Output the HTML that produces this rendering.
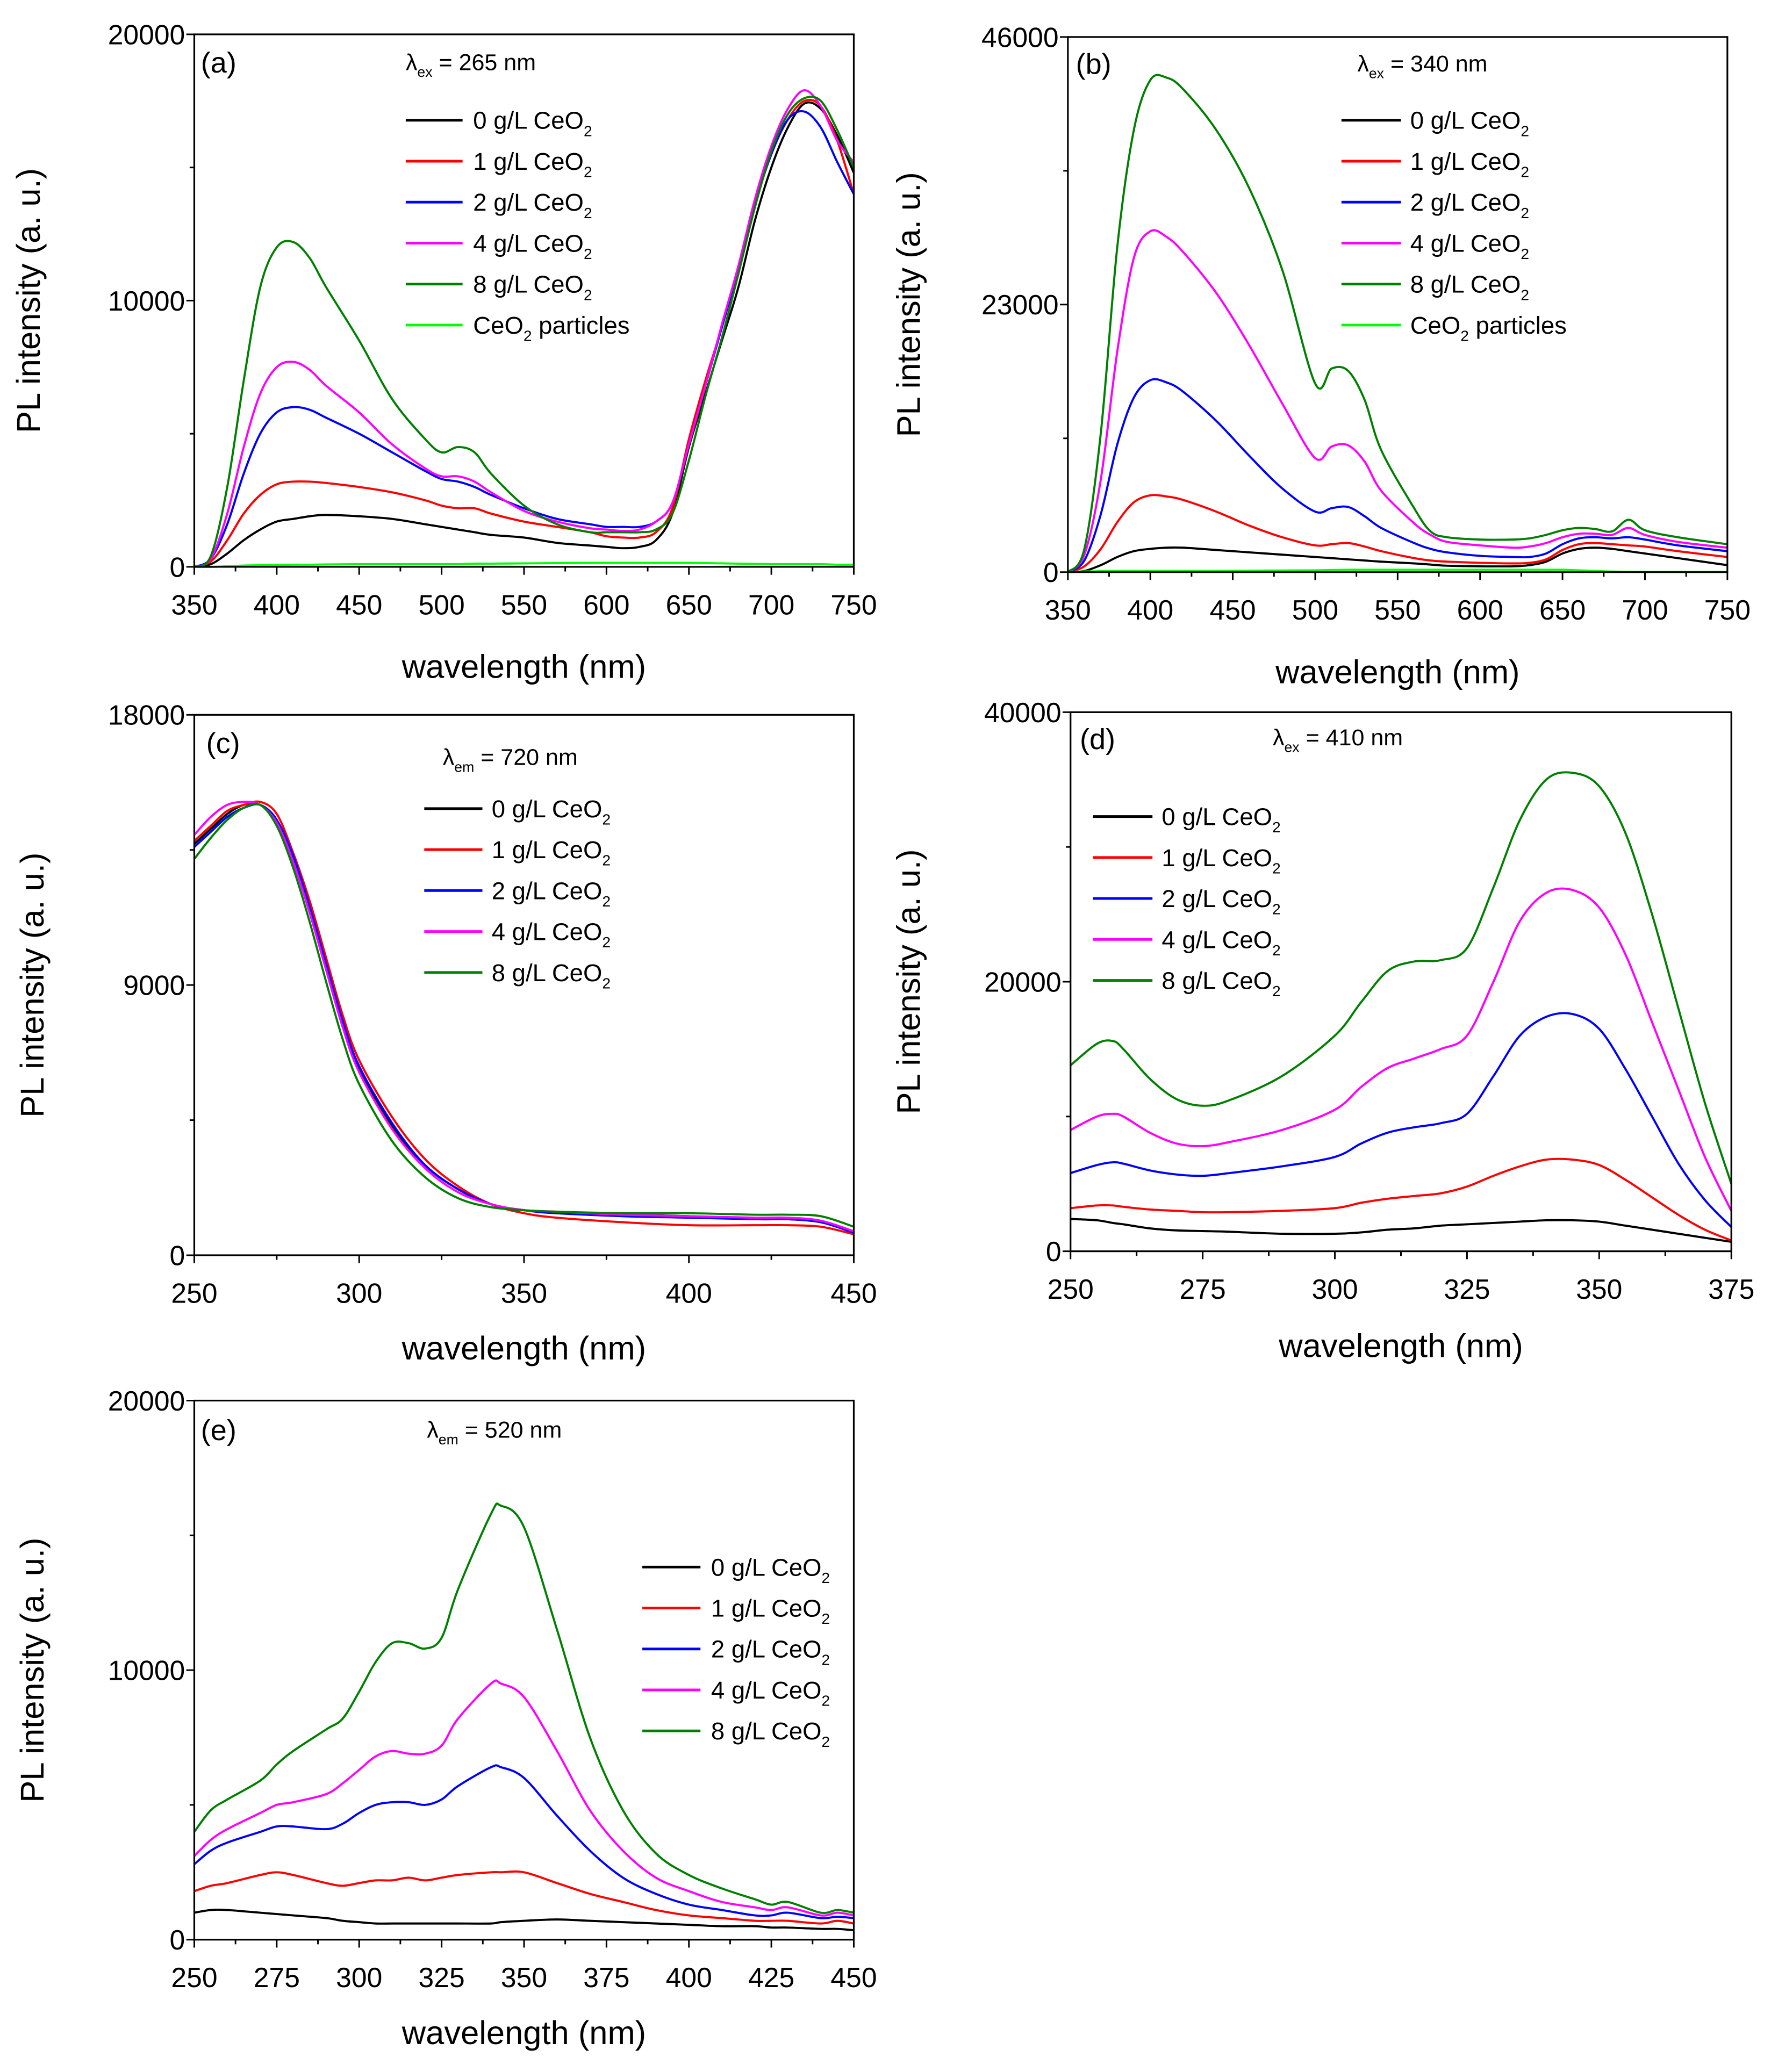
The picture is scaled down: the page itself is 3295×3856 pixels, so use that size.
<!DOCTYPE html>
<html><head><meta charset="utf-8"><style>
html,body{margin:0;padding:0;background:#fff}
svg{display:block}
text{font-family:"Liberation Sans",sans-serif;fill:#000}
</style></head><body>
<svg id="fig" xmlns="http://www.w3.org/2000/svg" width="3295" height="3856" viewBox="0 0 1340 1568.15"></svg>
<script>
// ---------- DATA ----------
const seriesNames = ["0 g/L CeO2","1 g/L CeO2","2 g/L CeO2","4 g/L CeO2","8 g/L CeO2","CeO2 particles"];
const seriesColors = ["#000000","#ff0000","#0000ff","#ff00ff","#008000","#00ff00"];

const aX = [350,360,370,380,390,400,410,420,430,450,470,490,500,510,520,530,550,570,590,600,610,620,630,640,650,660,670,680,690,700,710,720,730,740,750];
const aBlack = [0,0.1,0.5,1.0,1.4,1.7,1.8,1.9,1.95,1.9,1.8,1.6,1.5,1.4,1.3,1.2,1.1,0.9,0.8,0.75,0.7,0.75,1.0,2.0,4.5,6.5,8.5,10.5,13.0,15.0,16.5,17.4,17.2,16.2,14.8];
const aRed = [0,0.2,1.0,2.0,2.7,3.1,3.2,3.2,3.15,3.0,2.8,2.5,2.3,2.2,2.2,2.0,1.7,1.5,1.3,1.15,1.1,1.1,1.3,2.2,4.8,7.0,9.0,11.2,13.6,15.5,16.8,17.5,17.3,16.0,14.0];
const aBlue = [0,0.3,1.6,3.5,5.0,5.8,6.0,5.9,5.6,5.0,4.3,3.6,3.3,3.2,3.0,2.7,2.2,1.8,1.6,1.5,1.5,1.5,1.7,2.4,4.6,6.8,9.0,11.2,13.6,15.5,16.8,17.1,16.5,15.2,14.0];
const aMag = [0,0.3,2.0,4.5,6.5,7.5,7.7,7.4,6.8,5.8,4.6,3.7,3.4,3.4,3.2,2.8,2.1,1.7,1.45,1.4,1.35,1.4,1.7,2.4,4.6,6.8,9.1,11.3,13.8,15.8,17.2,17.9,17.3,16.0,15.2];
const aGreen = [0,0.4,3.0,7.0,10.5,12.0,12.2,11.6,10.5,8.5,6.3,4.8,4.3,4.5,4.3,3.5,2.3,1.6,1.3,1.3,1.3,1.3,1.4,2.0,4.0,6.4,8.6,11.0,13.5,15.6,17.0,17.6,17.5,16.4,15.0];
const aLight = [0,0,0.02,0.05,0.06,0.07,0.08,0.08,0.09,0.1,0.1,0.1,0.1,0.1,0.12,0.12,0.13,0.14,0.15,0.15,0.15,0.15,0.15,0.15,0.15,0.14,0.13,0.12,0.11,0.1,0.1,0.1,0.1,0.08,0.08];

const bX = [350,360,370,380,390,400,410,420,440,460,480,500,510,520,530,540,560,570,580,600,620,630,640,650,660,670,680,690,700,720,750];
const bBlack = [0,0.1,0.6,1.3,1.8,2.0,2.1,2.1,1.9,1.7,1.5,1.3,1.2,1.1,1.0,0.9,0.75,0.65,0.55,0.5,0.5,0.6,0.9,1.6,2.0,2.1,2.0,1.8,1.6,1.2,0.6];
const bRed = [0,0.5,2,4.3,6.0,6.6,6.5,6.2,5.2,4.0,3.0,2.3,2.4,2.5,2.2,1.8,1.2,1.0,0.9,0.8,0.75,0.8,1.1,1.9,2.4,2.5,2.4,2.3,2.2,1.8,1.3];
const bBlue = [0,1,5,11,15,16.5,16.3,15.5,13.0,10.0,7.2,5.2,5.5,5.6,4.8,3.8,2.5,2.0,1.7,1.4,1.3,1.3,1.6,2.4,2.9,3.0,2.9,3.0,2.8,2.3,1.8];
const bMag = [0,1.5,8,19,27,29.3,28.8,27.5,24,19.5,14.5,9.8,10.8,10.9,9.5,7.0,4.2,3.2,2.6,2.3,2.1,2.2,2.5,3.0,3.3,3.3,3.2,3.8,3.2,2.6,2.1];
const bGreen = [0,2,12,28,38,42.3,42.5,41.5,38,33,26,16.2,17.5,17.3,14.8,10.5,5.5,3.5,3.0,2.8,2.8,2.9,3.2,3.6,3.8,3.7,3.5,4.5,3.6,3.0,2.4];
const bLight = [0,0.05,0.08,0.1,0.1,0.1,0.1,0.1,0.1,0.12,0.14,0.15,0.18,0.2,0.2,0.2,0.2,0.2,0.2,0.2,0.2,0.2,0.2,0.2,0.15,0.1,0.05,0.03,0.02,0.02,0.02];

const cX = [250,255,260,265,270,275,280,285,290,295,300,310,320,330,340,350,360,380,400,420,430,440,450];
const cBlack = [13.7,14.2,14.7,15.0,15.0,14.5,13.2,11.5,9.6,7.7,6.2,4.3,3.0,2.2,1.7,1.5,1.4,1.35,1.3,1.2,1.2,1.1,0.8];
const cRed = [13.8,14.3,14.8,15.0,15.1,14.7,13.4,11.8,9.9,8.0,6.5,4.6,3.2,2.3,1.7,1.4,1.25,1.1,1.0,1.0,1.0,0.95,0.7];
const cBlue = [13.6,14.1,14.6,14.9,15.0,14.5,13.3,11.6,9.7,7.8,6.3,4.4,3.0,2.2,1.7,1.5,1.4,1.3,1.25,1.2,1.2,1.1,0.75];
const cMag = [14.0,14.6,15.0,15.1,15.0,14.4,13.1,11.4,9.5,7.6,6.1,4.2,2.9,2.1,1.7,1.5,1.45,1.35,1.3,1.25,1.25,1.15,0.8];
const cGreen = [13.2,13.9,14.5,14.9,15.0,14.3,12.9,11.1,9.1,7.2,5.7,3.8,2.6,1.9,1.6,1.5,1.45,1.4,1.4,1.35,1.35,1.3,0.95];

const dX = [250,255,258,260,265,270,275,280,290,300,305,310,315,320,325,330,335,340,345,350,355,360,365,370,375];
const dBlack = [2.4,2.3,2.1,2.0,1.7,1.55,1.5,1.45,1.3,1.3,1.4,1.6,1.7,1.9,2.0,2.1,2.2,2.3,2.3,2.2,1.9,1.6,1.3,1.0,0.7];
const dRed = [3.2,3.4,3.4,3.3,3.1,3.0,2.9,2.9,3.0,3.2,3.6,3.9,4.1,4.3,4.8,5.6,6.3,6.8,6.8,6.4,5.3,4.0,2.7,1.6,0.8];
const dBlue = [5.8,6.4,6.6,6.5,6.0,5.7,5.6,5.8,6.3,7.0,8.0,8.8,9.2,9.5,10.2,13,16,17.4,17.6,16.5,13.5,10,6.5,3.8,1.8];
const dMag = [9.0,10.0,10.2,10.0,8.8,8.0,7.8,8.1,9.0,10.5,12.2,13.6,14.3,15,16,20,24.5,26.6,26.8,25.5,22,17,12,7,3.0];
const dGreen = [13.8,15.4,15.6,15.0,12.8,11.3,10.8,11.2,13.0,16.0,18.5,20.8,21.5,21.6,22.5,27,32,35,35.5,34.5,31,25,18,11,5.0];

const eX = [250,255,260,270,275,280,290,295,300,305,310,315,320,325,330,340,343,350,360,370,380,390,400,410,420,425,430,440,445,450];
const eBlack = [1.0,1.1,1.1,1.0,0.95,0.9,0.8,0.7,0.65,0.6,0.6,0.6,0.6,0.6,0.6,0.6,0.65,0.7,0.75,0.7,0.65,0.6,0.55,0.5,0.5,0.45,0.45,0.4,0.4,0.35];
const eRed = [1.8,2.0,2.1,2.4,2.5,2.4,2.1,2.0,2.1,2.2,2.2,2.3,2.2,2.3,2.4,2.5,2.5,2.5,2.1,1.7,1.4,1.1,0.9,0.8,0.7,0.7,0.7,0.6,0.7,0.6];
const eBlue = [2.8,3.3,3.6,4.0,4.2,4.2,4.1,4.3,4.7,5.0,5.1,5.1,5.0,5.2,5.7,6.4,6.4,6.0,4.6,3.3,2.3,1.7,1.3,1.1,0.9,0.9,1.0,0.8,0.85,0.8];
const eMag = [3.1,3.7,4.1,4.7,5.0,5.1,5.4,5.8,6.3,6.8,7.0,6.9,6.9,7.2,8.2,9.5,9.5,9.0,7.0,4.8,3.3,2.3,1.8,1.4,1.2,1.1,1.2,0.9,1.0,0.9];
const eGreen = [4.0,4.8,5.2,5.9,6.5,7.0,7.8,8.2,9.2,10.3,11.0,11.0,10.8,11.2,13,15.8,16.1,15.3,11.5,7.5,4.8,3.2,2.4,1.9,1.5,1.3,1.4,1.0,1.1,1.0];

const aYTicks = [0,10000,20000], bYTicks = [0,23000,46000], cYTicks = [0,9000,18000], dYTicks = [0,20000,40000], eYTicks = [0,10000,20000];
const abXTicks = [350,400,450,500,550,600,650,700,750];
const ceXTicks = [250,300,350,400,450];
const dXTicks = [250,275,300,325,350,375];
const eXTicks = [250,275,300,325,350,375,400,425,450];

// ---------- DRAW ----------
const NS = "http://www.w3.org/2000/svg";
const svg = document.getElementById("fig");
function mk(tag, attrs, parent){const e=document.createElementNS(NS,tag);for(const k in attrs)e.setAttribute(k,attrs[k]);(parent||svg).appendChild(e);return e;}
function smoothPath(pts){
  let d="M"+pts[0][0].toFixed(2)+","+pts[0][1].toFixed(2);
  for(let i=0;i<pts.length-1;i++){
    const p0=pts[Math.max(0,i-1)],p1=pts[i],p2=pts[i+1],p3=pts[Math.min(pts.length-1,i+2)];
    const c1=[p1[0]+(p2[0]-p0[0])/6,p1[1]+(p2[1]-p0[1])/6];
    const c2=[p2[0]-(p3[0]-p1[0])/6,p2[1]-(p3[1]-p1[1])/6];
    d+="C"+c1[0].toFixed(2)+","+c1[1].toFixed(2)+" "+c2[0].toFixed(2)+","+c2[1].toFixed(2)+" "+p2[0].toFixed(2)+","+p2[1].toFixed(2);
  }
  return d;
}
function addSub(t, baseText, subText, size){
  const s=document.createElementNS(NS,"tspan");s.textContent=baseText;t.appendChild(s);
  const b=document.createElementNS(NS,"tspan");b.setAttribute("font-size",size*0.62);b.setAttribute("dy",size*0.3);b.textContent=subText;t.appendChild(b);
  return b;
}
function panel(cfg){
  const g=mk("g",{});
  
  
  const {x0,x1,y0,y1,xmin,xmax,ymax}=cfg;
  const sx=v=>x0+(v-xmin)/(xmax-xmin)*(x1-x0);
  const sy=v=>y0-(v/ymax)*(y0-y1);
  cfg.series.forEach((ys,i)=>{
    const pts=cfg.xs.map((xv,j)=>[sx(xv),sy(ys[j]*1000)]);
    const p=mk("path",{d:smoothPath(pts),fill:"none",stroke:seriesColors[i],"stroke-width":1.6,"stroke-linejoin":"round"},g);
    
    
  });
  const fr=mk("rect",{x:x0,y:y1,width:x1-x0,height:y0-y1,fill:"none",stroke:"#000","stroke-width":1.3},g);
  
  
  const xt=cfg.xTicks, xstep=xt[1]-xt[0];
  for(let v=xt[0];v<=xt[xt.length-1]+1e-6;v+=xstep/2){
    const major=xt.some(t=>Math.abs(t-v)<1e-6);
    mk("line",{x1:sx(v),x2:sx(v),y1:y0,y2:y0+(major?6:3.5),stroke:"#000","stroke-width":1.2},g);
  }
  xt.forEach(v=>{
    const t=mk("text",{x:sx(v),y:y0+36,"font-size":21,"text-anchor":"middle"},g);t.textContent=v;
    
    
  });
  const yt=cfg.yTicks, ystep=yt[1]-yt[0];
  for(let v=0;v<=ymax+1e-6;v+=ystep/2){
    const major=yt.some(t=>Math.abs(t-v)<1e-6);
    mk("line",{x1:x0,x2:x0-(major?6:3.5),y1:sy(v),y2:sy(v),stroke:"#000","stroke-width":1.2},g);
  }
  yt.forEach(v=>{
    const t=mk("text",{x:x0-7,y:sy(v)+7.5,"font-size":21,"text-anchor":"end"},g);t.textContent=v;
    
    
  });
  const xtT=mk("text",{x:(x0+x1)/2,y:cfg.xTitleY,"font-size":25,"text-anchor":"middle"},g);xtT.textContent="wavelength (nm)";
  
  
  const ytT=mk("text",{x:0,y:0,"font-size":25,"text-anchor":"middle",transform:"translate("+cfg.yTitleX+","+((y0+y1)/2)+") rotate(-90)"},g);ytT.textContent="PL intensity (a. u.)";
  
  
  const pl=mk("text",{x:cfg.lab[0],y:cfg.lab[1]+7,"font-size":22},g);pl.textContent="("+cfg.id+")";
  
  
  const la=mk("text",{x:cfg.lam[0],y:cfg.lam[1]+6,"font-size":17.5},g);
  
  
  addSub(la,"λ",cfg.lamSub,17.5);
  const rest=document.createElementNS(NS,"tspan");rest.setAttribute("dy",-17.5*0.3);rest.textContent=" = "+cfg.lamVal;la.appendChild(rest);
  cfg.series.forEach((ys,i)=>{
    const yy=cfg.legRows[0]+i*31;
    const le=mk("g",{},g);
    
    
    mk("line",{x1:cfg.legX[0],x2:cfg.legX[1],y1:yy,y2:yy,stroke:seriesColors[i],"stroke-width":2},le);
    const t=mk("text",{x:cfg.legX[2],y:yy+6.5,"font-size":18.5},le);
    if(i<5){
      addSub(t,seriesNames[i].slice(0,-1),"2",18.5);
    } else {
      addSub(t,"CeO","2",18.5);
      const r=document.createElementNS(NS,"tspan");r.setAttribute("dy",-18.5*0.3);r.textContent=" particles";t.appendChild(r);
    }
  });
}
panel({id:"a",x0:147,x1:646,y0:429,y1:26,xmin:350,xmax:750,ymax:20000,xs:aX,series:[aBlack,aRed,aBlue,aMag,aGreen,aLight],
  xTicks:abXTicks,yTicks:aYTicks,xTitleY:513,yTitleX:30,lab:[152,48],lam:[307,47],lamSub:"ex",lamVal:"265 nm",legRows:[91],legX:[307,350,358]});
panel({id:"b",x0:808,x1:1307,y0:433,y1:28,xmin:350,xmax:750,ymax:46000,xs:bX,series:[bBlack,bRed,bBlue,bMag,bGreen,bLight],
  xTicks:abXTicks,yTicks:bYTicks,xTitleY:517,yTitleX:696,lab:[814,49],lam:[1027,48],lamSub:"ex",lamVal:"340 nm",legRows:[91],legX:[1015,1060,1067]});
panel({id:"c",x0:147,x1:646,y0:950,y1:541,xmin:250,xmax:450,ymax:18000,xs:cX,series:[cBlack,cRed,cBlue,cMag,cGreen],
  xTicks:ceXTicks,yTicks:cYTicks,xTitleY:1029,yTitleX:33,lab:[156,563],lam:[335,573],lamSub:"em",lamVal:"720 nm",legRows:[612],legX:[321,365,372]});
panel({id:"d",x0:810,x1:1310,y0:947,y1:539,xmin:250,xmax:375,ymax:40000,xs:dX,series:[dBlack,dRed,dBlue,dMag,dGreen],
  xTicks:dXTicks,yTicks:dYTicks,xTitleY:1027,yTitleX:696,lab:[817,560],lam:[963,558],lamSub:"ex",lamVal:"410 nm",legRows:[618],legX:[827,872,879]});
panel({id:"e",x0:147,x1:646,y0:1468,y1:1060,xmin:250,xmax:450,ymax:20000,xs:eX,series:[eBlack,eRed,eBlue,eMag,eGreen],
  xTicks:eXTicks,yTicks:eYTicks,xTitleY:1547,yTitleX:33,lab:[152,1083],lam:[323,1082],lamSub:"em",lamVal:"520 nm",legRows:[1186],legX:[486,530,538]});
</script>
</body></html>
